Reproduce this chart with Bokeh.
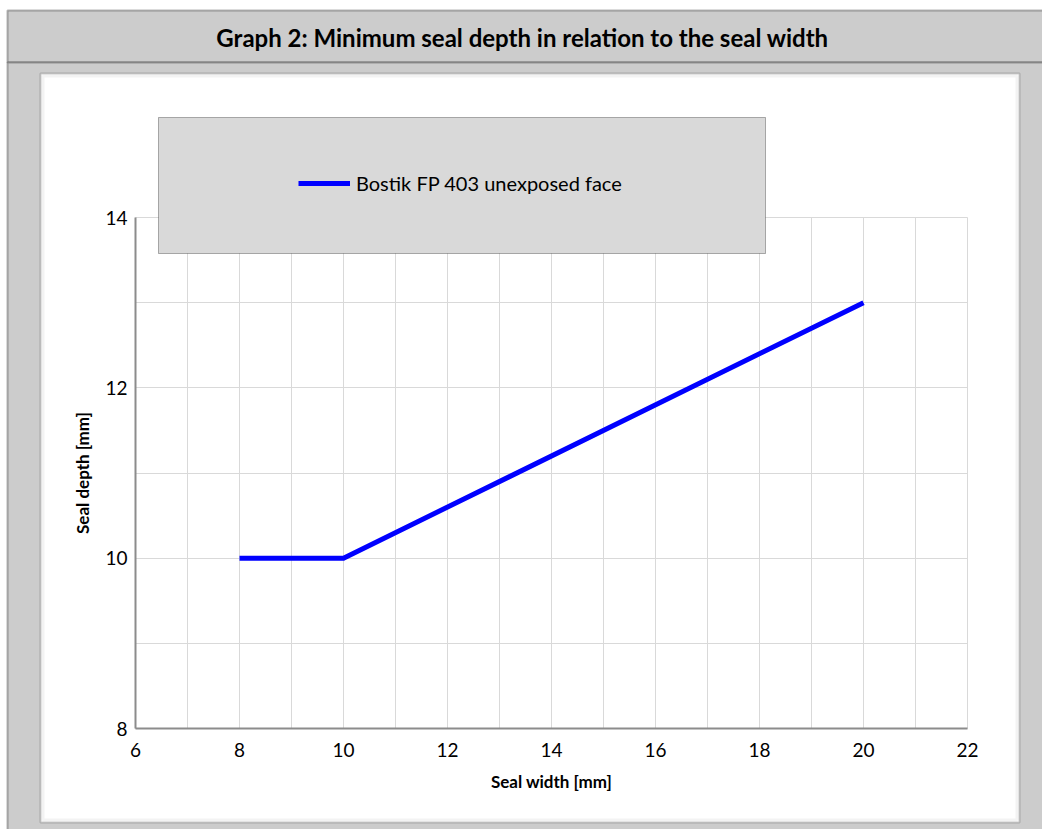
from bokeh.plotting import figure
from bokeh.models import BoxAnnotation, Label, Legend, LegendItem, FixedTicker, Range1d
from bokeh.embed import file_html
from bokeh.resources import INLINE

# ---- data ----
seal_width = [8, 10, 20]
seal_depth = [10, 10, 13]
x_ticks = [6, 8, 10, 12, 14, 16, 18, 20, 22]
x_minor = [7, 9, 11, 13, 15, 17, 19, 21]
y_ticks = [8, 10, 12, 14]
y_minor = [9, 11, 13]
title_text = "Graph 2: Minimum seal depth in relation to the seal width"
series_name = "Bostik FP 403 unexposed face"
x_title = "Seal width [mm]"
y_title = "Seal depth [mm]"

# ---- layout (canvas pixels) ----
W, H = 1042, 829
AX_L, AX_R, AX_T, AX_B = 135, 967, 217, 728   # plot box in pixels

x0, x1 = x_ticks[0], x_ticks[-1]
y0, y1 = y_ticks[0], y_ticks[-1]
ppx = (AX_R - AX_L) / (x1 - x0)
ppy = (AX_B - AX_T) / (y1 - y0)
x_range = Range1d(x0 - AX_L / ppx, x1 + (W - AX_R) / ppx)
y_range = Range1d(y0 - (H - AX_B) / ppy, y1 + AX_T / ppy)

p = figure(width=W, height=H, output_backend="svg", toolbar_location=None,
           x_range=x_range, y_range=y_range,
           min_border=0, min_border_left=0, min_border_right=0,
           min_border_top=0, min_border_bottom=0,
           background_fill_color="white", border_fill_color="white",
           outline_line_color=None)


def sx(X):  # page x -> screen units (frame = whole canvas)
    return X


def sy(Y):  # page y -> screen units from the bottom
    return H - Y


def box(l, t, r, b, **kw):
    return BoxAnnotation(left=sx(l), right=sx(r), top=sy(t), bottom=sy(b),
                         left_units="screen", right_units="screen",
                         top_units="screen", bottom_units="screen", **kw)


# grey outer frame (title bar + body)
p.add_layout(box(7, 10, 1100, 62, fill_color="#cccccc", fill_alpha=1,
                 line_color="#111111", line_width=2, level="image"))
p.add_layout(box(7, 62, 1100, 900, fill_color="#cccccc", fill_alpha=1,
                 line_color="#111111", line_width=2, level="image"))
# white panel
p.add_layout(box(40, 73, 1019, 822, fill_color="white", fill_alpha=1,
                 line_color="#5a5a5a", line_width=2, level="image"))
p.add_layout(box(42.5, 75.5, 1016.5, 819.5, fill_alpha=0, line_color="#d6d6d6",
                 line_width=3, level="image"))

# title
p.add_layout(Label(x=sx(522), y=sy(37), x_units="screen", y_units="screen",
                   text=title_text, text_align="center", text_baseline="middle",
                   text_font="Lato", text_font_style="bold", text_font_size="24px",
                   text_color="black"))

# grids
p.xaxis.ticker = FixedTicker(ticks=x_ticks, minor_ticks=x_minor)
p.yaxis.ticker = FixedTicker(ticks=y_ticks, minor_ticks=y_minor)
for g in (p.xgrid[0], p.ygrid[0]):
    g.grid_line_color = "#d9d9d9"
    g.grid_line_width = 1
    g.minor_grid_line_color = "#d9d9d9"
    g.minor_grid_line_width = 1
p.xgrid[0].bounds = (x0, x1)
p.xgrid[0].cross_bounds = (y0, y1)
p.ygrid[0].bounds = (y0, y1)
p.ygrid[0].cross_bounds = (x0, x1)

# axes
for ax in (p.xaxis[0], p.yaxis[0]):
    ax.axis_line_color = "#8c8c8c"
    ax.axis_line_width = 2
    ax.major_tick_line_color = None
    ax.minor_tick_line_color = None
    ax.major_tick_out = 0
    ax.major_tick_in = 0
    ax.minor_tick_out = 0
    ax.minor_tick_in = 0
    ax.major_label_text_font = "Lato"
    ax.major_label_text_font_size = "19px"
    ax.major_label_text_color = "black"
    ax.axis_label_text_font = "Lato"
    ax.axis_label_text_font_style = "bold"
    ax.axis_label_text_font_size = "17px"
    ax.axis_label_text_color = "black"
p.xaxis.axis_label = x_title
p.yaxis.axis_label = y_title
p.xaxis.fixed_location = y0
p.yaxis.fixed_location = x0
p.xaxis.bounds = (x0, x1)
p.yaxis.bounds = (y0, y1)
p.xaxis.major_label_standoff = 14
p.xaxis.axis_label_standoff = 11
p.yaxis.major_label_standoff = 8
p.yaxis.axis_label_standoff = 9
p.yaxis.major_label_orientation = "horizontal"

# data line
r = p.line(seal_width, seal_depth, line_color="#0000ff", line_width=5, line_join="miter")

# legend box and legend
p.add_layout(box(158, 117, 765, 253, fill_color="#d9d9d9", fill_alpha=1,
                 line_color="black", line_width=1, level="annotation"))
legend = Legend(items=[LegendItem(label=series_name, renderers=[r])],
                location=(sx(298), sy(185) - 10), padding=0, margin=0, spacing=0,
                border_line_color=None, background_fill_alpha=0,
                glyph_width=52, glyph_height=20, label_height=20, label_standoff=6,
                label_text_font="Lato", label_text_font_size="20px",
                label_text_color="black", label_text_baseline="middle")
p.add_layout(legend, "center")

p.title.text = ""

open("out.html", "w").write(file_html(p, INLINE))
